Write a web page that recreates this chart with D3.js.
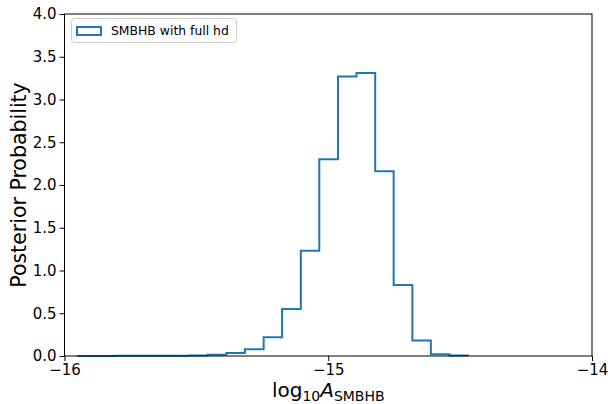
<!DOCTYPE html>
<html>
<head>
<meta charset="utf-8">
<script src="https://cdn.jsdelivr.net/npm/d3@7"></script>
<style>
  body { margin: 0; background: #fff; }
  svg { font-family: "DejaVu Sans", sans-serif; }
</style>
</head>
<body>
<div id="chart"></div>
<script>
// histogram bin edges (log10 A) and heights
const binEdges = [-15.950, -15.880, -15.809, -15.739, -15.668, -15.598, -15.527,
    -15.457, -15.386, -15.316, -15.245, -15.175, -15.104, -15.034, -14.963,
    -14.893, -14.822, -14.752, -14.681, -14.611, -14.540, -14.470];
const binHeights = [0.001, 0.001, 0.002, 0.002, 0.003, 0.004, 0.006, 0.015, 0.035,
    0.08, 0.22, 0.55, 1.23, 2.30, 3.27, 3.31, 2.16, 0.83, 0.18, 0.02, 0.005];
const xTicks = [-16, -15, -14];
const yTicks = [0, 0.5, 1.0, 1.5, 2.0, 2.5, 3.0, 3.5, 4.0];
const seriesName = "SMBHB with full hd";

const width = 608, height = 404;
const margin = { left: 64.5, right: 16, top: 14, bottom: 48 };
const color = "#1f77b4";

let svg = d3.select("#chart")
    .append("svg")
    .attr("width", width)
    .attr("height", height);

let x = d3.scaleLinear().domain([-16, -14]).range([margin.left, width - margin.right]);
let y = d3.scaleLinear().domain([0, 4]).range([height - margin.bottom, margin.top]);

let minus = s => s.replace("-", "\u2212");

// step outline
let pts = [[binEdges[0], 0]];
binHeights.forEach((h, i) => {
    pts.push([binEdges[i], h]);
    pts.push([binEdges[i + 1], h]);
});
pts.push([binEdges[binEdges.length - 1], 0]);

svg.append("path")
    .datum(pts)
    .attr("d", d3.line().x(d => x(d[0])).y(d => y(d[1])))
    .attr("fill", "none")
    .attr("stroke", color)
    .attr("stroke-width", 2)
    .attr("stroke-linejoin", "miter");

// axes
let xAxis = svg.append("g")
    .attr("transform", `translate(0, ${y(0)})`)
    .call(d3.axisBottom(x).tickValues(xTicks).tickSize(5).tickPadding(3.5)
        .tickFormat(d => minus(d3.format("d")(d))));
let yAxis = svg.append("g")
    .attr("transform", `translate(${x(-16)}, 0)`)
    .call(d3.axisLeft(y).tickValues(yTicks).tickSize(5).tickPadding(3)
        .tickFormat(d3.format(".1f")));

[xAxis, yAxis].forEach(g => {
    g.select(".domain").remove();
    g.selectAll("line").attr("stroke", "#000").attr("stroke-width", 1);
    g.selectAll("text").attr("fill", "#000").style("font-size", "15px")
        .style("font-family", "DejaVu Sans");
});

// frame
svg.append("rect")
    .attr("x", x(-16))
    .attr("y", y(4))
    .attr("width", x(-14) - x(-16))
    .attr("height", y(0) - y(4))
    .attr("fill", "none")
    .attr("stroke", "#000")
    .attr("stroke-width", 1);

// axis labels
let xl = svg.append("text")
    .attr("x", (x(-16) + x(-14)) / 2)
    .attr("y", 397)
    .attr("text-anchor", "middle")
    .style("font-size", "20px");
xl.append("tspan").text("log");
xl.append("tspan").attr("dy", 4).style("font-size", "14px").text("10");
xl.append("tspan").attr("dy", -4).style("font-style", "italic").text("A");
xl.append("tspan").attr("dy", 4).style("font-size", "14px").text("SMBHB");

svg.append("text")
    .attr("transform", `translate(18.5, ${(y(0) + y(4)) / 2}) rotate(-90)`)
    .attr("text-anchor", "middle")
    .attr("dy", "0.35em")
    .style("font-size", "20.5px")
    .text("Posterior Probability");

// legend
let lg = svg.append("g");
lg.append("rect")
    .attr("x", 71.5).attr("y", 18.5)
    .attr("width", 165).attr("height", 24)
    .attr("rx", 3)
    .attr("fill", "#fff").attr("fill-opacity", 0.8)
    .attr("stroke", "#ccc");
lg.append("rect")
    .attr("x", 77).attr("y", 27)
    .attr("width", 24).attr("height", 8)
    .attr("fill", "none")
    .attr("stroke", color)
    .attr("stroke-width", 2);
lg.append("text")
    .attr("x", 111).attr("y", 35)
    .style("font-size", "12.4px")
    .text(seriesName);
</script>
</body>
</html>
